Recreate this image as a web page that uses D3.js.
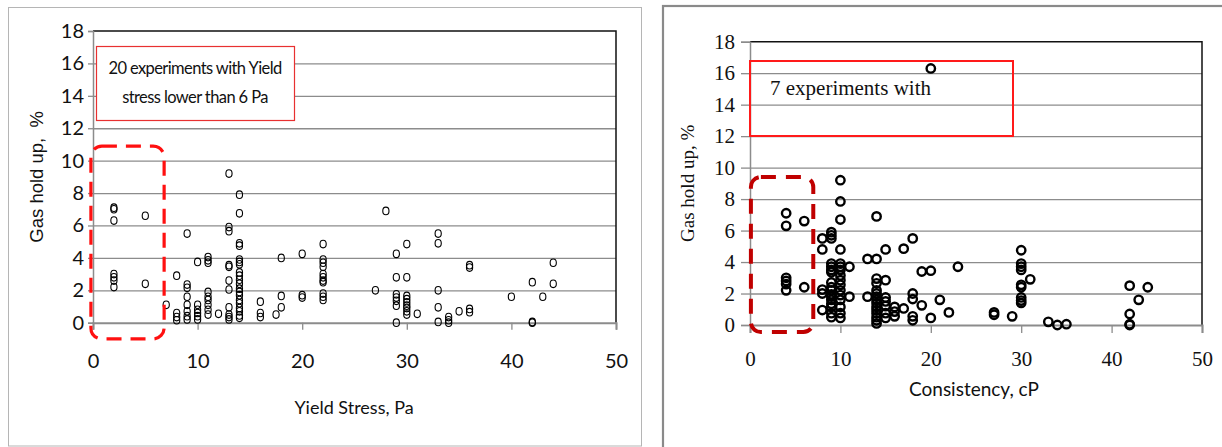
<!DOCTYPE html>
<html>
<head>
<meta charset="utf-8">
<script src="https://cdn.jsdelivr.net/npm/d3@7"></script>
<style>
  body { margin: 0; background: #fff; }
  svg { display: block; }
</style>
</head>
<body>
<div id="chart"></div>
<script>
// ---- data ----
var yTicks = [0, 2, 4, 6, 8, 10, 12, 14, 16, 18];
var xTicks = [0, 10, 20, 30, 40, 50];

// left: gas hold up vs yield stress
var yieldStress = [
  2, 2, 2, 2, 2, 2, 2,
  5, 5, 7,
  8, 8, 8, 8,
  9, 9, 9, 9, 9, 9, 9, 9,
  10, 10, 10, 10, 10, 10,
  11, 11, 11, 11, 11, 11, 11, 11, 11,
  12,
  13, 13, 13, 13, 13, 13, 13, 13, 13, 13, 13,
  14, 14, 14, 14, 14, 14, 14, 14, 14, 14, 14, 14, 14, 14, 14, 14, 14, 14, 14, 14,
  16, 16, 16, 17.5, 18, 18, 18, 20, 20, 20,
  22, 22, 22, 22, 22, 22, 22, 22, 22, 22, 22,
  27, 28,
  29, 29, 29, 29, 29, 29, 29,
  30, 30, 30, 30, 30, 30, 30, 30, 30,
  31, 33, 33, 33, 33, 33, 34, 34, 34, 35,
  36, 36, 36, 36, 40, 42, 42, 42, 43, 44, 44
];
var holdupYield = [
  7.1, 7.0, 6.3, 3.0, 2.8, 2.6, 2.2,
  6.6, 2.4, 1.1,
  2.9, 0.6, 0.35, 0.15,
  5.5, 2.35, 2.15, 1.6, 1.1, 0.7, 0.4, 0.2,
  3.75, 1.1, 0.8, 0.6, 0.4, 0.2,
  4.05, 3.85, 3.7, 1.9, 1.6, 1.4, 1.1, 0.8, 0.5,
  0.55,
  9.2, 5.9, 5.65, 3.55, 3.45, 2.6, 2.05, 0.95, 0.5, 0.35, 0.2,
  7.9, 6.75, 4.9, 4.75, 3.9, 3.75, 3.6, 3.1, 2.9, 2.65, 2.4, 2.1, 1.9, 1.7, 1.4, 1.2, 0.9, 0.7, 0.45, 0.3,
  1.3, 0.6, 0.35, 0.5, 4.0, 1.65, 0.95, 4.25, 1.7, 1.55,
  4.85, 3.9, 3.7, 3.45, 3.0, 2.8, 2.6, 2.5, 1.8, 1.6, 1.4,
  2.0, 6.9,
  4.25, 2.8, 1.75, 1.55, 1.35, 1.05, 0.0,
  4.85, 2.8, 1.65, 1.45, 1.25, 1.05, 0.9, 0.7, 0.5,
  0.55, 5.5, 4.9, 2.0, 0.95, 0.05, 0.35, 0.15, 0.0, 0.7,
  3.55, 3.4, 0.85, 0.65, 1.6, 2.5, 0.05, 0.0, 1.6, 3.7, 2.4
];

// right: gas hold up vs consistency
var consistency = [
  4, 4, 4, 4, 4, 4,
  6, 6,
  8, 8, 8, 8, 8,
  9, 9, 9, 9, 9, 9, 9, 9, 9, 9, 9, 9, 9, 9, 9, 9, 9,
  10, 10, 10, 10, 10, 10, 10, 10, 10, 10, 10, 10, 10, 10, 10, 10,
  11, 11, 13, 13,
  14, 14, 14, 14, 14, 14, 14, 14, 14, 14, 14, 14, 14, 14, 14,
  15, 15, 15, 15, 15, 15, 15,
  16, 16, 16, 17, 17,
  18, 18, 18, 18, 18,
  19, 19, 20, 20, 20, 21, 22, 23,
  27, 27, 29,
  30, 30, 30, 30, 30, 30, 30, 30, 30,
  31, 33, 34, 35, 42, 42, 42, 42, 43, 44
];
var holdupConsistency = [
  7.1, 6.3, 3.0, 2.8, 2.6, 2.2,
  6.6, 2.4,
  5.5, 4.8, 2.25, 2.0, 0.95,
  5.9, 5.7, 5.5, 3.9, 3.7, 3.5, 3.35, 2.7, 2.4, 2.2, 1.95, 1.8, 1.6, 1.35, 1.15, 0.75, 0.5,
  9.2, 7.85, 6.7, 4.8, 3.9, 3.7, 3.5, 3.15, 2.85, 2.55, 2.2, 1.9, 1.6, 1.15, 0.75, 0.45,
  3.7, 1.8, 4.2, 1.8,
  6.9, 4.2, 2.95, 2.65, 2.2, 2.0, 1.8, 1.6, 1.4, 1.15, 0.95, 0.75, 0.5, 0.3, 0.1,
  4.8, 2.85, 1.75, 1.5, 1.2, 0.75, 0.45,
  1.15, 0.85, 0.55, 4.85, 1.05,
  5.5, 2.0, 1.65, 0.55, 0.3,
  3.4, 1.25, 16.3, 3.45, 0.45, 1.6, 0.8, 3.7,
  0.8, 0.65, 0.55,
  4.75, 3.9, 3.7, 3.5, 2.55, 2.4, 1.75, 1.55, 1.4,
  2.9, 0.2, 0.0, 0.05, 2.5, 0.7, 0.05, 0.0, 1.6, 2.4
];

var leftNote = ["20 experiments with Yield", "stress lower than 6 Pa"];
var rightNote = ["7 experiments with"];

var svg = d3.select("#chart").append("svg")
    .attr("width", 1222)
    .attr("height", 447);

var calibri = "Lato, 'Open Sans', sans-serif";
var times = "'Liberation Serif', 'DejaVu Serif', serif";

// outer frames of the two pasted charts
svg.append("rect")
    .attr("x", 8.5).attr("y", 7.5)
    .attr("width", 633).attr("height", 438.5)
    .attr("fill", "none").attr("stroke", "#b5b5b5").attr("stroke-width", 1);

svg.append("rect")
    .attr("x", 663).attr("y", 6)
    .attr("width", 600).attr("height", 460)
    .attr("fill", "none").attr("stroke", "#8a8a8a").attr("stroke-width", 2.2);

function drawPanel(cfg) {
    var x = d3.scaleLinear().domain([0, 50]).range([cfg.left, cfg.right]);
    var y = d3.scaleLinear().domain([0, 18]).range([cfg.bottom, cfg.top]);
    var g = svg.append("g");

    // gridlines
    g.append("g")
        .attr("transform", `translate(${cfg.left},0)`)
        .call(d3.axisLeft(y).tickValues(yTicks.slice(1, -1)).tickSize(-(cfg.right - cfg.left)).tickFormat(""))
        .call(a => a.select(".domain").remove())
        .selectAll("line")
        .attr("stroke", "#8c8c8c").attr("stroke-width", 1.3);

    // plot area border (top + right dark)
    g.append("path")
        .attr("d", `M${cfg.left},${cfg.top}H${cfg.right}V${cfg.bottom}`)
        .attr("fill", "none").attr("stroke", "#111").attr("stroke-width", 1.5);

    // y axis
    var yAxis = g.append("g")
        .attr("transform", `translate(${cfg.left},0)`)
        .call(d3.axisLeft(y).tickValues(yTicks).tickSize(cfg.tick).tickPadding(cfg.yPad));
    yAxis.select(".domain").attr("stroke", "#8c8c8c").attr("stroke-width", 1.5);
    yAxis.selectAll("line").attr("stroke", "#8c8c8c").attr("stroke-width", 1.3);
    yAxis.selectAll("text")
        .attr("font-family", cfg.tickFont).attr("font-size", cfg.tickSize).attr("fill", "#111");

    // x axis
    var xAxis = g.append("g")
        .attr("transform", `translate(0,${cfg.bottom})`)
        .call(d3.axisBottom(x).tickValues(xTicks).tickSize(cfg.xtick).tickPadding(cfg.xPad));
    xAxis.select(".domain").attr("stroke", "#8c8c8c").attr("stroke-width", 2);
    xAxis.selectAll("line").attr("stroke", "#8c8c8c").attr("stroke-width", 1.3);
    xAxis.selectAll("text")
        .attr("font-family", cfg.tickFont).attr("font-size", cfg.tickSize).attr("fill", "#111");

    // axis titles
    g.append("text")
        .attr("transform", `translate(${cfg.yTitleX},${(cfg.top + cfg.bottom) / 2}) rotate(-90)`)
        .attr("text-anchor", "middle")
        .attr("font-family", cfg.yTitleFont).attr("font-size", cfg.yTitleSize).attr("fill", "#111")
        .style("white-space", "pre")
        .text(cfg.yTitle);

    g.append("text")
        .attr("x", cfg.xTitleX).attr("y", cfg.xTitleY)
        .attr("text-anchor", "middle")
        .attr("font-family", calibri).attr("font-size", cfg.xTitleSize).attr("fill", "#111")
        .text(cfg.xTitle);

    // markers
    var pts = cfg.xs.map((v, i) => ({ x: v, y: cfg.ys[i] }));
    g.selectAll("ellipse.pt")
        .data(pts)
        .enter().append("ellipse")
        .attr("class", "pt")
        .attr("cx", d => x(d.x))
        .attr("cy", d => y(d.y))
        .attr("rx", cfg.rx).attr("ry", cfg.ry)
        .attr("fill", "none").attr("stroke", "#000").attr("stroke-width", cfg.markStroke);

    return { x: x, y: y, g: g };
}

var left = drawPanel({
    left: 93, right: 616, top: 31, bottom: 322.7,
    tick: 5, xtick: 7, yPad: 4, xPad: 24,
    tickFont: calibri, tickSize: 20,
    yTitle: "Gas hold up,  %", yTitleFont: "'Liberation Sans', Arial, sans-serif", yTitleSize: 18.5, yTitleX: 43,
    xTitle: "Yield Stress, Pa", xTitleX: 354, xTitleY: 414, xTitleSize: 18,
    xs: yieldStress, ys: holdupYield, rx: 3.1, ry: 3.8, markStroke: 1.1
});

var right = drawPanel({
    left: 750, right: 1202, top: 41.7, bottom: 325,
    tick: 9, xtick: 8, yPad: 6, xPad: 18,
    tickFont: times, tickSize: 21,
    yTitle: "Gas hold up, %", yTitleFont: times, yTitleSize: 19, yTitleX: 694,
    xTitle: "Consistency, cP", xTitleX: 974, xTitleY: 396, xTitleSize: 19,
    xs: consistency, ys: holdupConsistency, rx: 4.2, ry: 4.2, markStroke: 2.4
});

// annotation boxes
svg.append("rect")
    .attr("x", 96.5).attr("y", 46.5).attr("width", 198).attr("height", 74)
    .attr("fill", "#fff").attr("stroke", "#e83030").attr("stroke-width", 1.2);
svg.append("text")
    .attr("x", 195).attr("y", 74)
    .attr("text-anchor", "middle")
    .attr("font-family", calibri).attr("font-size", 16.5).attr("letter-spacing", -0.6).attr("fill", "#111")
    .selectAll("tspan").data(leftNote).enter().append("tspan")
    .attr("x", 195).attr("dy", (d, i) => i ? 29 : 0)
    .text(d => d);

svg.append("rect")
    .attr("x", 750).attr("y", 61).attr("width", 263).attr("height", 75)
    .attr("fill", "none").attr("stroke", "#ff1a1a").attr("stroke-width", 2);
svg.append("text")
    .attr("x", 770).attr("y", 95)
    .attr("font-family", times).attr("font-size", 21).attr("fill", "#111")
    .text(rightNote[0]);

// dashed highlight around the low yield-stress points
svg.append("rect")
    .attr("x", left.x(-0.2)).attr("y", left.y(10.9))
    .attr("width", left.x(6.8) - left.x(-0.2)).attr("height", left.y(-1) - left.y(10.9))
    .attr("rx", 11).attr("ry", 11)
    .attr("fill", "none").attr("stroke", "#ff1010").attr("stroke-width", 3.2)
    .attr("stroke-dasharray", "15,9");

svg.append("rect")
    .attr("x", right.x(0.1)).attr("y", right.y(9.4))
    .attr("width", right.x(7.0) - right.x(0.1)).attr("height", right.y(-0.45) - right.y(9.4))
    .attr("rx", 10).attr("ry", 10)
    .attr("fill", "none").attr("stroke", "#c00000").attr("stroke-width", 4)
    .attr("stroke-dasharray", "15,10");
</script>
</body>
</html>
